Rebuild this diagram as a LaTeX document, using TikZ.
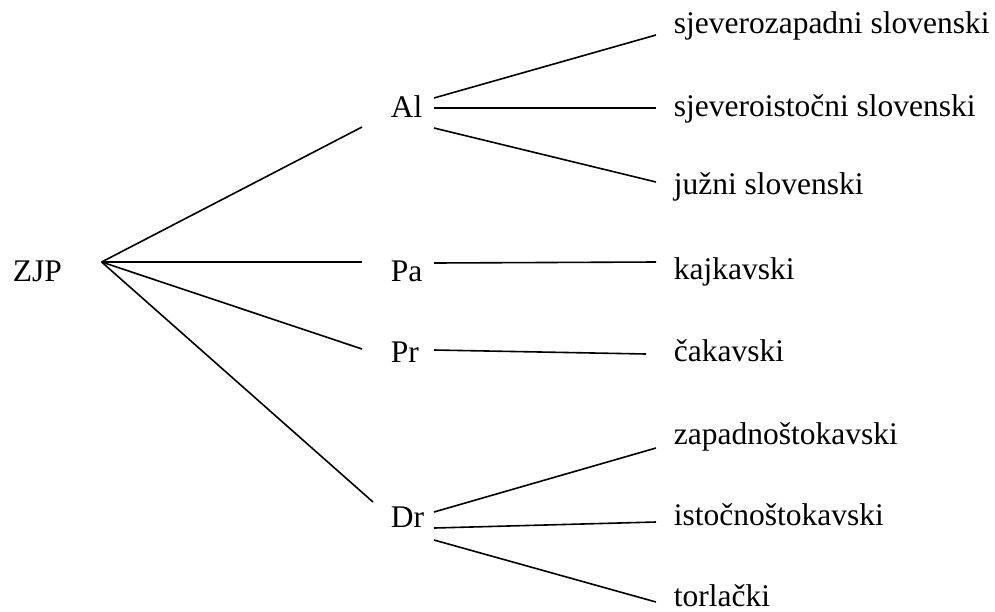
\documentclass[tikz,border=0pt]{standalone}
\usepackage{fontspec}
\setmainfont{Liberation Serif}
\begin{document}
\begin{tikzpicture}[x=1pt,y=-1pt,line width=1.6pt,
  lbl/.style={anchor=base west,inner sep=0pt,font=\rmfamily\fontsize{31.5}{36}\selectfont}]
\useasboundingbox (0,0) rectangle (995,611);
% root and first level
\node[lbl] (zjp) at (12,281) {ZJP};
\node[lbl] (al) at (390,117) {Al};
\node[lbl] (pa) at (390,281) {Pa};
\node[lbl] (pr) at (390,362) {Pr};
\node[lbl] (dr) at (390,527) {Dr};
% dialects
\node[lbl] (szs) at (673,33) {sjeverozapadni slovenski};
\node[lbl] (sis) at (673,116) {sjeveroistočni slovenski};
\node[lbl] (jsl) at (673,194) {južni slovenski};
\node[lbl] (kaj) at (673,279) {kajkavski};
\node[lbl] (cak) at (673,361) {čakavski};
\node[lbl] (zst) at (673,444) {zapadnoštokavski};
\node[lbl] (ist) at (673,525) {istočnoštokavski};
\node[lbl] (tor) at (673,606) {torlački};
\coordinate (fork) at ([shift={(39,-19)}]zjp.base east);
\draw (fork) -- ([shift={(-28,10)}]al.base west);
\draw (fork) -- ([shift={(-28,-19)}]pa.base west);
\draw (fork) -- ([shift={(-28,-13)}]pr.base west);
\draw (fork) -- ([shift={(-17,-25)}]dr.base west);
\draw ([shift={(44,-19)}]al.base west) -- ([shift={(-17,2)}]szs.base west);
\draw ([shift={(44,-9)}]al.base west) -- ([shift={(-17,-8)}]sis.base west);
\draw ([shift={(44,11)}]al.base west) -- ([shift={(-17,-12)}]jsl.base west);
\draw ([shift={(44,-18)}]pa.base west) -- ([shift={(-17,-17)}]kaj.base west);
\draw ([shift={(44,-12)}]pr.base west) -- ([shift={(-27,-7)}]cak.base west);
\draw ([shift={(44,-15)}]dr.base west) -- ([shift={(-17,4)}]zst.base west);
\draw ([shift={(44,1)}]dr.base west) -- ([shift={(-17,-3)}]ist.base west);
\draw ([shift={(44,13)}]dr.base west) -- ([shift={(-17,-4)}]tor.base west);
\end{tikzpicture}
\end{document}
